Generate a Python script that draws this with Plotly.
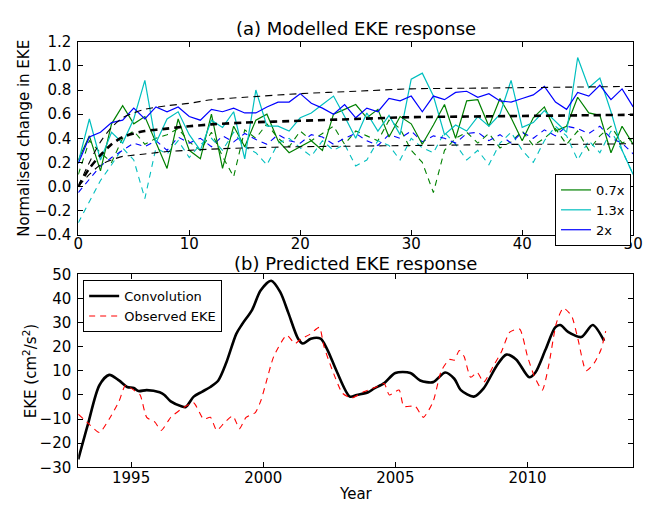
import plotly.graph_objects as go

# ---------------- Panel (a) data ----------------
years_a = list(range(0, 51))

green_solid = [0.22, 0.42, 0.13, 0.52, 0.67, 0.52, 0.58, 0.36, 0.15, 0.56,
               0.30, 0.23, 0.60, 0.15, 0.50, 0.33, 0.55, 0.60, 0.38, 0.28,
               0.33, 0.38, 0.30, 0.60, 0.64, 0.68, 0.57, 0.64, 0.41, 0.58,
               0.52, 0.35, 0.51, 0.68, 0.40, 0.71, 0.72, 0.50, 0.73, 0.57,
               0.38, 0.57, 0.66, 0.46, 0.50, 0.74, 0.61, 0.59, 0.28, 0.50, 0.35]

cyan_solid = [0.20, 0.56, 0.22, 0.45, 0.36, 0.56, 0.88, 0.36, 0.56, 0.62,
              0.43, 0.30, 0.55, 0.49, 0.62, 0.23, 0.80, 0.50, 0.50, 0.46,
              0.57, 0.61, 0.68, 0.75, 0.58, 0.40, 0.61, 0.46, 0.59, 0.43,
              0.89, 0.94, 0.75, 0.43, 0.51, 0.46, 0.58, 0.50, 0.60, 0.88,
              0.49, 0.53, 0.63, 0.54, 0.45, 1.07, 0.82, 0.90, 0.62, 0.30, 0.10]

blue_solid = [0.19, 0.41, 0.45, 0.53, 0.55, 0.65, 0.56, 0.66, 0.62, 0.66,
              0.58, 0.55, 0.64, 0.62, 0.65, 0.61, 0.61, 0.66, 0.70, 0.70,
              0.77, 0.69, 0.65, 0.60, 0.68, 0.57, 0.65, 0.62, 0.73, 0.71,
              0.75, 0.62, 0.75, 0.72, 0.78, 0.79, 0.74, 0.77, 0.71, 0.70,
              0.73, 0.76, 0.83, 0.70, 0.64, 0.78, 0.75, 0.84, 0.72, 0.81, 0.66]

green_dashed = [0.10, 0.38, 0.28, 0.20, 0.40, 0.46, 0.35, 0.40, 0.43, 0.48,
                0.37, 0.30, 0.45, 0.25, 0.08, 0.47, 0.40, 0.52, 0.40, 0.33,
                0.46, 0.38, 0.44, 0.50, 0.35, 0.46, 0.42, 0.38, 0.55, 0.48,
                0.30, 0.20, -0.05, 0.30, 0.40, 0.45, 0.36, 0.44, 0.32, 0.37,
                0.46, 0.34, 0.40, 0.48, 0.35, 0.46, 0.30, 0.42, 0.50, 0.36, 0.40]

cyan_dashed = [-0.30, -0.12, 0.05, 0.18, 0.32, 0.22, -0.10, 0.32, 0.27, 0.38,
               0.24, 0.35, 0.40, 0.30, 0.45, 0.33, 0.28, 0.18, 0.36, 0.40,
               0.32, 0.25, 0.38, 0.30, 0.35, 0.17, 0.22, 0.38, 0.34, 0.22,
               0.40, 0.32, 0.28, 0.45, 0.35, 0.22, 0.30, 0.18, 0.36, 0.45,
               0.30, 0.20, 0.38, 0.50, 0.42, 0.22, 0.38, 0.28, 0.46, 0.30, 0.10]

blue_dashed = [-0.05, 0.06, 0.17, 0.24, 0.30, 0.36, 0.33, 0.38, 0.30, 0.41,
               0.36, 0.40, 0.33, 0.42, 0.37, 0.44, 0.39, 0.35, 0.43, 0.38,
               0.36, 0.43, 0.41, 0.35, 0.40, 0.44, 0.38, 0.34, 0.43, 0.40,
               0.46, 0.37, 0.42, 0.40, 0.36, 0.44, 0.45, 0.38, 0.43, 0.36,
               0.45, 0.40, 0.47, 0.42, 0.50, 0.48, 0.44, 0.50, 0.40, 0.36, 0.27]

fit_years = [0, 1, 2, 3, 4, 5, 6, 8, 10, 12, 15, 20, 25, 30, 35, 40, 45, 50]
fit_upper = [0.0, 0.20, 0.37, 0.49, 0.57, 0.61, 0.64, 0.67, 0.69, 0.72,
             0.74, 0.77, 0.79, 0.81, 0.815, 0.82, 0.825, 0.83]
fit_mid = [0.0, 0.15, 0.26, 0.35, 0.41, 0.44, 0.46, 0.48, 0.50, 0.515,
           0.53, 0.545, 0.56, 0.575, 0.58, 0.585, 0.59, 0.595]
fit_lower = [0.0, 0.10, 0.18, 0.22, 0.25, 0.26, 0.27, 0.29, 0.30, 0.31,
             0.32, 0.33, 0.335, 0.34, 0.345, 0.35, 0.35, 0.355]

# ---------------- Panel (b) data ----------------
conv_year = [1993.0, 1993.37, 1993.8, 1994.17, 1994.54, 1994.85, 1995.1, 1995.28,
             1995.59, 1996.08, 1996.26, 1996.5, 1996.9, 1997.07, 1997.37, 1997.68,
             1998.0, 1998.3, 1998.6, 1998.98, 1999.2, 1999.58, 1999.9, 2000.3,
             2000.64, 2000.95, 2001.32, 2001.5, 2001.8, 2002.17, 2002.43, 2002.8,
             2003.28, 2003.54, 2003.97, 2004.2, 2004.58, 2005.0, 2005.57, 2005.94,
             2006.43, 2006.89, 2007.23, 2007.48, 2007.97, 2008.34, 2008.83, 2009.2,
             2009.57, 2010.07, 2010.3, 2010.68, 2011.05, 2011.24, 2011.55, 2012.04,
             2012.47, 2012.9]
conv_val = [-26.7, -12.0, 4.0, 8.3, 6.0, 3.3, 2.9, 1.6,
            2.0, 1.1, 0.0, -2.7, -4.7, -5.0, -0.7, 1.3,
            3.3, 6.0, 13.3, 25.3, 29.3, 35.3, 43.3, 47.3,
            42.7, 34.0, 23.3, 21.3, 23.3, 23.3, 18.7, 9.3,
            -0.7, 0.0, 1.1, 2.7, 4.9, 9.1, 9.1, 6.0,
            5.3, 9.3, 6.7, 2.0, -0.7, 2.7, 12.0, 16.7,
            14.7, 7.3, 9.3, 18.7, 28.0, 29.0, 26.0, 24.0,
            29.0, 22.4]

obs_year = [1993.0, 1993.43, 1993.8, 1994.17, 1994.54, 1994.79, 1995.1, 1995.34,
            1995.59, 1995.9, 1996.14, 1996.5, 1996.88, 1997.07, 1997.37, 1997.74,
            1998.0, 1998.24, 1998.55, 1998.85, 1999.1, 1999.35, 1999.7, 1999.9,
            2000.08, 2000.4, 2000.89, 2001.2, 2001.44, 2001.75, 2002.12, 2002.3,
            2002.6, 2003.0, 2003.35, 2003.8, 2004.28, 2004.58, 2004.77, 2005.14,
            2005.32, 2005.75, 2006.06, 2006.43, 2006.74, 2007.05, 2007.23, 2007.42,
            2007.6, 2007.85, 2008.1, 2008.34, 2008.71, 2009.02, 2009.33, 2009.7,
            2010.0, 2010.25, 2010.56, 2010.8, 2011.1, 2011.36, 2011.67, 2011.92,
            2012.22, 2012.53, 2012.78, 2012.96]
obs_val = [-8.0, -12.3, -15.6, -10.0, -2.7, 4.0, 2.0, 0.0,
           -9.3, -11.3, -14.7, -9.3, -6.0, -4.7, -3.3, -10.0,
           -9.3, -14.7, -11.3, -8.7, -14.0, -9.3, -7.3, -2.7,
           4.0, 16.0, 24.7, 21.3, 23.3, 25.0, 28.0, 20.0,
           10.7, 0.7, -1.3, 1.3, 3.3, 4.7, 0.0, 2.0,
           -4.7, -4.7, -9.3, -2.7, 10.0, 14.7, 14.4, 18.4,
           16.0, 7.3, 9.3, 5.3, 12.0, 18.0, 26.0, 27.3,
           16.0, 8.0, 2.0, 12.0, 30.0, 36.0, 32.7, 22.7,
           10.0, 13.3, 18.7, 26.4]

GREEN = "#008000"
CYAN = "#00BFBF"
BLUE = "#0000FF"
RED = "#FF0000"
FONT = "DejaVu Sans"

fig = go.Figure()

# dashed coloured series (no legend)
for ys, col in [(green_dashed, GREEN), (cyan_dashed, CYAN), (blue_dashed, BLUE)]:
    fig.add_trace(go.Scatter(x=years_a, y=ys, mode="lines", showlegend=False,
                             line=dict(color=col, width=1.1, dash="6px,5px"),
                             xaxis="x", yaxis="y"))
# solid coloured series
for ys, col, name in [(green_solid, GREEN, "0.7x"), (cyan_solid, CYAN, "1.3x"),
                      (blue_solid, BLUE, "2x")]:
    fig.add_trace(go.Scatter(x=years_a, y=ys, mode="lines", name=name,
                             line=dict(color=col, width=1.2),
                             xaxis="x", yaxis="y", legend="legend"))
# black fits
for ys, w in [(fit_upper, 1.1), (fit_lower, 1.1), (fit_mid, 2.6)]:
    fig.add_trace(go.Scatter(x=fit_years, y=ys, mode="lines", showlegend=False,
                             line=dict(color="black", width=w, dash="7px,5px",
                                       shape="spline", smoothing=0.8),
                             xaxis="x", yaxis="y"))

# panel b
fig.add_trace(go.Scatter(x=conv_year, y=conv_val, mode="lines", name="Convolution",
                         line=dict(color="black", width=2.6, shape="spline", smoothing=0.8),
                         xaxis="x2", yaxis="y2", legend="legend2"))
fig.add_trace(go.Scatter(x=obs_year, y=obs_val, mode="lines", name="Observed EKE",
                         line=dict(color=RED, width=1.1, dash="6px,5px",
                                   shape="spline", smoothing=0.6),
                         xaxis="x2", yaxis="y2", legend="legend2"))

W, H = 650, 511
xl, xr = 75 / W, 643 / W
top_dom = [1 - 234 / H, 1 - 34 / H]
bot_dom = [1 - 475 / H, 1 - 275 / H]

axis_common = dict(showline=True, linecolor="black", linewidth=1, mirror="allticks",
                   ticks="inside", ticklen=5, tickcolor="black", tickwidth=1,
                   showgrid=False, zeroline=False, ticklabeloverflow="allow",
                   tickfont=dict(family=FONT, size=15, color="black"))

fig.update_layout(
    width=W, height=H,
    margin=dict(l=0, r=0, t=0, b=0),
    paper_bgcolor="white", plot_bgcolor="white",
    font=dict(family=FONT, color="black"),
    xaxis=dict(domain=[xl, xr], anchor="y", range=[0, 50], tickvals=[0, 10, 20, 30, 40, 50],
               ticklabelstandoff=-5, **axis_common),
    yaxis=dict(domain=top_dom, anchor="x", range=[-0.4, 1.2],
               tickvals=[-0.4, -0.2, 0.0, 0.2, 0.4, 0.6, 0.8, 1.0, 1.2], tickformat=".1f",
               ticklabelstandoff=3, **axis_common),
    xaxis2=dict(domain=[xl, xr], anchor="y2", range=[1993, 2014],
                tickvals=[1995, 2000, 2005, 2010], ticklabelstandoff=-3, **axis_common),
    yaxis2=dict(domain=bot_dom, anchor="x2", range=[-30, 50],
                tickvals=[-30, -20, -10, 0, 10, 20, 30, 40, 50],
                ticklabelstandoff=3, **axis_common),
    legend=dict(x=563 / W, y=1 - 171 / H, xanchor="left", yanchor="top",
                bordercolor="black", borderwidth=1, bgcolor="white",
                font=dict(family=FONT, size=13), itemwidth=30, tracegroupgap=0),
    legend2=dict(x=80 / W, y=1 - 281 / H, xanchor="left", yanchor="top",
                 bordercolor="black", borderwidth=1, bgcolor="white",
                 font=dict(family=FONT, size=13), itemwidth=30, tracegroupgap=0),
    showlegend=True,
)

ann = [
    dict(text="(a) Modelled EKE response", x=359 / W, y=1 - 20 / H, size=18, angle=0),
    dict(text="(b) Predicted EKE response", x=359 / W, y=1 - 264 / H, size=18, angle=0),
    dict(text="Normalised change in EKE", x=20 / W, y=1 - 134 / H, size=15, angle=-90),
    dict(text="EKE (cm<sup>2</sup>/s<sup>2</sup>)", x=25 / W, y=1 - 375 / H, size=15, angle=-90),
    dict(text="Year", x=359 / W, y=1 - 503 / H, size=15, angle=0),
]
for a in ann:
    fig.add_annotation(text=a["text"], x=a["x"], y=a["y"], xref="paper", yref="paper",
                       xanchor="center", yanchor="middle", showarrow=False,
                       textangle=a["angle"], font=dict(family=FONT, size=a["size"], color="black"))

fig.write_html("out.html")
